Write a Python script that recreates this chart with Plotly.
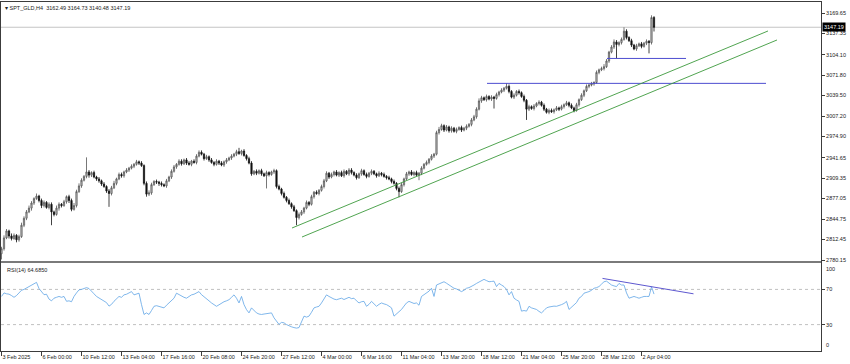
import plotly.graph_objects as go

# ---------------- data ----------------
symbol_title = "SPT_GLD,H4"
last_ohlc = [3162.49, 3164.73, 3140.48, 3147.19]
rsi_label = "RSI(14) 64.6850"

first_open = 2790

closes = [
    2798, 2815, 2826, 2818, 2814, 2819, 2812, 2817, 2835, 2846,
    2856, 2862, 2870, 2877, 2881, 2874, 2866, 2871, 2863, 2868,
    2856, 2852, 2862, 2868, 2866, 2872, 2880, 2874, 2860, 2866,
    2888, 2897, 2906, 2912, 2919, 2914, 2918, 2911, 2908, 2905,
    2900, 2896, 2889, 2885, 2894, 2901, 2908, 2915, 2913, 2919,
    2922, 2925, 2928, 2931, 2935, 2933, 2929, 2901, 2884, 2886,
    2899, 2904, 2903, 2901, 2899, 2897, 2905, 2911, 2920, 2927,
    2931, 2936, 2932, 2938, 2933, 2931, 2936, 2934, 2944, 2950,
    2947, 2940, 2943, 2938, 2934, 2931, 2936, 2933, 2930, 2935,
    2938, 2941, 2944, 2947, 2951, 2948, 2952, 2945, 2940, 2933,
    2916, 2920, 2917, 2921, 2916, 2913, 2918, 2915, 2919, 2921,
    2896, 2892, 2885, 2879, 2874, 2869, 2864, 2858, 2847, 2852,
    2856, 2862, 2871, 2868, 2880, 2887, 2885, 2890, 2896, 2905,
    2917, 2911, 2915, 2919, 2914, 2918, 2913, 2920, 2916, 2922,
    2918, 2914, 2910, 2916, 2921, 2915, 2912, 2917, 2920, 2916,
    2913, 2917, 2915, 2912, 2910, 2908, 2904, 2901, 2893, 2888,
    2899, 2908, 2916, 2919, 2915, 2918, 2914, 2917, 2925, 2931,
    2934, 2939, 2944, 2947, 2981, 2986, 2992, 2985, 2990, 2984,
    2988, 2983, 2986, 2989, 2985, 2988, 2991, 2994, 3001, 3006,
    3018, 3031, 3036, 3033, 3038, 3034, 3037, 3035, 3041, 3045,
    3048, 3051, 3054, 3046, 3037, 3040, 3046, 3044, 3038, 3032,
    3018, 3022, 3019, 3023, 3027, 3029, 3024, 3018, 3013, 3016,
    3014, 3017, 3020, 3018, 3022, 3025, 3028, 3024, 3020, 3016,
    3025, 3033, 3040, 3047, 3054, 3056, 3058, 3060, 3076, 3080,
    3082, 3085, 3094, 3108, 3116, 3124, 3120, 3123, 3128, 3141,
    3131, 3126, 3119, 3113, 3118, 3121, 3117, 3122, 3125, 3123,
    3162.49, 3147.19,
]

upper_wicks = [
    3, 4, 3, 2, 4, 3, 2, 3, 4, 3,
    3, 4, 3, 2, 4, 2, 3, 3, 2, 3,
    3, 2, 4, 3, 2, 3, 2, 3, 3, 4,
    3, 4, 3, 2, 23, 3, 2, 3, 2, 3,
    2, 3, 2, 3, 3, 4, 2, 3, 3, 2,
    3, 2, 3, 2, 3, 2, 3, 2, 3, 4,
    3, 2, 3, 2, 3, 2, 3, 2, 3, 3,
    2, 3, 3, 2, 3, 3, 2, 3, 3, 3,
    3, 2, 3, 2, 3, 2, 3, 2, 3, 2,
    3, 2, 3, 2, 3, 6, 2, 3, 2, 3,
    3, 2, 3, 2, 3, 2, 3, 2, 2, 3,
    2, 3, 2, 3, 2, 3, 2, 3, 2, 3,
    3, 2, 3, 2, 3, 2, 3, 2, 3, 3,
    3, 2, 3, 2, 3, 2, 3, 3, 2, 3,
    3, 2, 3, 2, 3, 2, 3, 2, 3, 2,
    2, 3, 2, 3, 2, 3, 2, 3, 2, 3,
    3, 2, 3, 2, 3, 2, 3, 2, 3, 2,
    3, 2, 3, 2, 3, 4, 3, 2, 3, 2,
    3, 2, 3, 2, 3, 2, 3, 2, 3, 3,
    3, 4, 3, 2, 3, 2, 3, 2, 3, 2,
    3, 2, 5, 3, 2, 3, 2, 3, 2, 3,
    2, 3, 2, 3, 2, 3, 2, 3, 2, 3,
    3, 2, 3, 2, 3, 2, 3, 2, 3, 2,
    3, 2, 3, 2, 3, 2, 3, 2, 3, 2,
    3, 4, 3, 2, 3, 4, 3, 2, 3, 6,
    3, 2, 3, 2, 3, 2, 3, 2, 3, 2,
    3.51, 2.24,
]

lower_wicks = [
    9, 3, 2, 4, 3, 2, 4, 3, 2, 3,
    3, 2, 4, 3, 2, 3, 4, 3, 2, 3,
    21, 3, 2, 4, 3, 2, 3, 4, 3, 2,
    3, 2, 3, 2, 3, 4, 3, 2, 3, 3,
    3, 2, 3, 21, 3, 2, 3, 2, 3, 3,
    2, 3, 2, 3, 2, 3, 2, 3, 4, 3,
    3, 2, 3, 4, 3, 2, 3, 2, 3, 2,
    3, 2, 3, 2, 3, 2, 3, 2, 3, 2,
    2, 3, 2, 3, 2, 3, 2, 3, 2, 3,
    3, 2, 3, 2, 3, 2, 3, 2, 3, 2,
    3, 2, 3, 2, 3, 2, 20, 3, 2, 3,
    3, 2, 3, 2, 3, 2, 3, 2, 12, 3,
    2, 3, 2, 3, 2, 3, 2, 3, 2, 3,
    2, 3, 2, 3, 2, 3, 2, 3, 2, 3,
    3, 2, 3, 2, 3, 2, 3, 2, 3, 2,
    3, 2, 3, 2, 3, 2, 3, 2, 3, 9,
    2, 3, 2, 3, 2, 3, 2, 8, 3, 2,
    2, 3, 2, 3, 2, 3, 2, 3, 2, 3,
    3, 2, 3, 2, 3, 2, 3, 2, 3, 2,
    3, 2, 3, 2, 3, 2, 3, 16, 2, 3,
    2, 3, 2, 3, 2, 3, 2, 3, 2, 3,
    17, 3, 2, 3, 2, 3, 2, 3, 2, 3,
    2, 3, 2, 3, 2, 3, 2, 3, 2, 3,
    2, 3, 2, 3, 2, 3, 2, 3, 2, 3,
    2, 3, 2, 3, 2, 3, 22, 3, 3, 2,
    3, 2, 3, 2, 3, 2, 3, 2, 3, 17,
    3, 6.71,
]

rsi_values = [
    62, 66, 65, 64.6, 63, 61, 63, 66, 69, 70,
    71.5, 73, 75, 76.5, 78, 71, 67, 64, 64.5, 59,
    57, 60, 61, 62, 61, 62, 56.5, 57, 56, 62,
    66, 69.5, 70, 71.3, 72, 71, 67.5, 65, 62, 60,
    58, 57, 55, 51, 53, 56.5, 59, 62, 61, 63.8,
    64.5, 65.7, 67.5, 63.8, 65, 65.7, 52.7, 41.5, 43.3, 41.5,
    46, 50.8, 51.5, 50.8, 49.5, 49, 52, 54.6, 57.5, 60,
    65.7, 64, 62, 61, 60, 62, 63.8, 64.5, 65.7, 67.5,
    64, 62, 60, 57, 54.6, 52.5, 50.8, 52.5, 54.6, 56,
    57, 58.3, 61, 63.8, 60, 54.6, 62, 52.7, 47, 43.3,
    49, 46, 43.3, 42, 41.5, 42, 42.3, 42.8, 43.3, 37.7,
    34, 30.2, 32.5, 32, 30, 28.5, 27.5, 26.6, 26, 26.6,
    34, 39.6, 38.5, 39.6, 44, 49, 50, 50.8, 54.6, 59,
    63.8, 62, 60, 59, 58.3, 59, 60, 58.5, 60, 61,
    59.5, 60, 57, 54.6, 56, 56.4, 50.8, 53, 56.4, 54,
    50.8, 53, 54.6, 53.5, 52.7, 51, 49, 39.6, 42, 45.3,
    47.2, 51, 54.6, 56.4, 55, 54, 54.6, 52, 62, 64,
    65.7, 68, 71.3, 62, 75, 76, 77.5, 78.7, 77, 75,
    73, 71.3, 70.5, 69.4, 67.5, 69, 71.3, 72, 73.2, 75,
    76.8, 78.5, 80, 81.4, 80, 78.7, 79, 79.4, 73.2, 76.8,
    75, 73.2, 70, 63.8, 67.5, 60, 58, 56.4, 45.3, 46,
    45.3, 50.8, 49, 48, 47.2, 45, 43.3, 46, 49, 50,
    50.8, 51, 50.8, 51.5, 52.7, 54, 56.4, 47.2, 50, 52.7,
    55, 60, 62, 65.7, 66.5, 67.5, 69, 71.3, 72, 73.2,
    76, 78.7, 79.4, 77, 75, 74, 73.2, 76.8, 75, 75,
    66, 60, 61, 62, 61, 60, 61, 62, 62, 62,
    73, 64.685,
]

time_tick_bars = [0, 16, 32, 48, 64, 80, 96, 112, 128, 144, 160, 176, 192, 208, 224, 240, 256]
time_tick_labels = ["3 Feb 2025", "6 Feb 00:00", "10 Feb 12:00", "13 Feb 04:00", "17 Feb 16:00",
                    "20 Feb 08:00", "24 Feb 20:00", "27 Feb 12:00", "4 Mar 00:00", "6 Mar 16:00",
                    "11 Mar 04:00", "13 Mar 20:00", "18 Mar 12:00", "21 Mar 04:00", "25 Mar 20:00",
                    "28 Mar 12:00", "2 Apr 04:00"]

price_ticks = [3169.65, 3137.35, 3104.10, 3071.80, 3039.50, 3007.20, 2974.90,
               2941.65, 2909.35, 2877.05, 2844.75, 2812.45, 2780.15]

# drawn objects (bar index, value)
support_lines = [(242.2, 273.8, 3098.0), (194.2, 305.8, 3058.7)]
channel_lines = [((116.2, 2830.6), (306.6, 3141.3)), ((120.2, 2816.4), (310.2, 3127.1))]
rsi_trend = ((240.4, 82.5), (276.8, 65.0))
rsi_levels = [70, 30]

# ---------------- build ----------------
n = len(closes)
assert len(upper_wicks) == n and len(lower_wicks) == n and len(rsi_values) == n
bars = list(range(n))
opens = [first_open] + closes[:-1]
highs = [max(o, c) + u for o, c, u in zip(opens, closes, upper_wicks)]
lows = [min(o, c) - d for o, c, d in zip(opens, closes, lower_wicks)]

W, H = 850, 364
L, R, T, B = 1, 29, 2, 13
ph = H - T - B
main_dom = [(H - B - 261) / ph, 1.0]
rsi_dom = [0.0, (H - B - 263) / ph]
xr = [(1 - 1.5) / 2.5, (821 - 1.5) / 2.5]
y_top = 3169.65 + (13 - 2) * 389.5 / 247
y_bot = 3169.65 - (261 - 13) * 389.5 / 247

FONT = "Liberation Sans"
FS = 5.5
TXT = "#222222"
FRAME = "#3c3c3c"

fig = go.Figure()
fig.add_trace(go.Candlestick(
    x=bars, open=opens, high=highs, low=lows, close=closes,
    xaxis="x", yaxis="y",
    increasing=dict(line=dict(color="#555555", width=0.8), fillcolor="#cfcfcf"),
    decreasing=dict(line=dict(color="#111111", width=0.8), fillcolor="#111111"),
    whiskerwidth=0, hoverinfo="skip", showlegend=False,
))
fig.add_trace(go.Scatter(
    x=bars, y=rsi_values, xaxis="x2", yaxis="y2", mode="lines",
    line=dict(color="#5fa4e6", width=0.8), hoverinfo="skip", showlegend=False,
))

shapes = []
shapes.append(dict(type="line", xref="paper", yref="y", x0=0, x1=1, y0=last_ohlc[3], y1=last_ohlc[3],
                   line=dict(color="#c4c4c4", width=1), layer="below"))
for x0, x1, yv in support_lines:
    shapes.append(dict(type="line", xref="x", yref="y", x0=x0, x1=x1, y0=yv, y1=yv,
                       line=dict(color="#4d4dd0", width=1)))
for (xa, ya), (xb, yb) in channel_lines:
    shapes.append(dict(type="line", xref="x", yref="y", x0=xa, x1=xb, y0=ya, y1=yb,
                       line=dict(color="#3c9a3c", width=0.9)))
for lv in rsi_levels:
    shapes.append(dict(type="line", xref="paper", yref="y2", x0=0, x1=1, y0=lv, y1=lv,
                       line=dict(color="#c0c0c0", width=1, dash="dot"), layer="below"))
(ra, rva), (rb, rvb) = rsi_trend
shapes.append(dict(type="line", xref="x2", yref="y2", x0=ra, x1=rb, y0=rva, y1=rvb,
                   line=dict(color="#5e58d0", width=1)))
shapes.append(dict(type="rect", xref="paper", yref="paper", x0=0, x1=1,
                   y0=rsi_dom[1], y1=main_dom[0], fillcolor="#7a7a7a", line=dict(width=0)))

annotations = [
    dict(xref="paper", yref="paper", x=0, y=1, xanchor="left", yanchor="top", xshift=2, yshift=-1,
         text="▾ " + symbol_title + "&nbsp;&nbsp;" + " ".join(f"{v:.2f}" for v in last_ohlc),
         showarrow=False, font=dict(family=FONT, size=FS, color=TXT)),
    dict(xref="paper", yref="paper", x=0, y=rsi_dom[1], xanchor="left", yanchor="top", xshift=4, yshift=-2,
         text=rsi_label, showarrow=False, font=dict(family=FONT, size=FS, color=TXT)),
    dict(xref="paper", yref="y", x=1, y=last_ohlc[3], xanchor="left", yanchor="middle", xshift=1,
         text=f"{last_ohlc[3]:.2f}", showarrow=False, bgcolor="#000000", borderpad=1,
         font=dict(family=FONT, size=FS, color="#ffffff")),
    dict(xref="paper", yref="y2", x=1, y=100, xanchor="left", yanchor="top", xshift=3, yshift=-1,
         text="100", showarrow=False, font=dict(family=FONT, size=FS, color=TXT)),
    dict(xref="paper", yref="y2", x=1, y=0, xanchor="left", yanchor="bottom", xshift=3, yshift=1,
         text="0", showarrow=False, font=dict(family=FONT, size=FS, color=TXT)),
]

axis_common = dict(showgrid=False, zeroline=False, showline=True, mirror=True,
                   linecolor=FRAME, linewidth=1, fixedrange=True, automargin=False)

fig.update_layout(
    width=W, height=H, margin=dict(l=L, r=R, t=T, b=B, autoexpand=False),
    paper_bgcolor="white", plot_bgcolor="white",
    font=dict(family=FONT, size=FS, color=TXT),
    showlegend=False, hovermode=False,
    shapes=shapes, annotations=annotations,
    xaxis=dict(domain=[0, 1], anchor="y", range=xr, showticklabels=False, ticks="",
               rangeslider=dict(visible=False), **axis_common),
    yaxis=dict(domain=main_dom, anchor="x", range=[y_bot, y_top], side="right",
               tickvals=price_ticks, ticktext=[f"{v:.2f}" for v in price_ticks],
               ticks="outside", ticklen=3, tickcolor=FRAME,
               tickfont=dict(family=FONT, size=FS, color=TXT), **axis_common),
    xaxis2=dict(domain=[0, 1], anchor="y2", range=xr, tickvals=time_tick_bars, ticktext=time_tick_labels,
                ticks="outside", ticklen=4, tickcolor=FRAME, ticklabelposition="outside right",
                tickangle=0, tickfont=dict(family=FONT, size=FS, color=TXT), **axis_common),
    yaxis2=dict(domain=rsi_dom, anchor="x2", range=[0, 100], side="right",
                tickvals=[30, 70], ticktext=["30", "70"], ticks="outside", ticklen=3, tickcolor=FRAME,
                tickfont=dict(family=FONT, size=FS, color=TXT), **axis_common),
)

fig.write_html("out.html", config={"displayModeBar": False},
               post_script="document.body.style.margin='0';document.body.style.overflow='hidden';")
